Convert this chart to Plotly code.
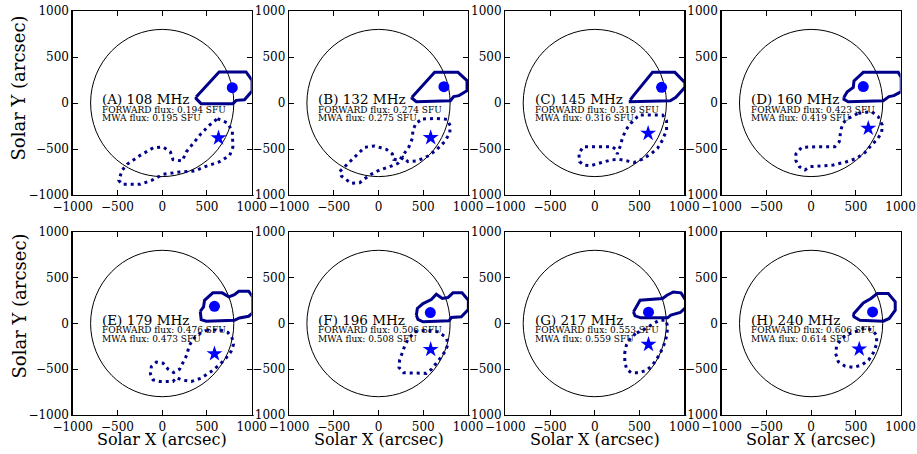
import plotly.graph_objects as go

# ---------------- data ----------------
PANEL_LETTERS = ["A", "B", "C", "D", "E", "F", "G", "H"]
FREQ_MHZ = [108, 132, 145, 160, 179, 196, 217, 240]
FORWARD_FLUX = [0.194, 0.274, 0.318, 0.423, 0.476, 0.506, 0.553, 0.606]
MWA_FLUX = [0.195, 0.275, 0.316, 0.419, 0.473, 0.508, 0.559, 0.614]
SUN_RADIUS = 800
TICKS = [-1000, -500, 0, 500, 1000]

# centroid markers (arcsec)
CIRCLE_X = [783, 731, 746, 583, 584, 579, 600, 687]
CIRCLE_Y = [167, 177, 170, 178, 188, 120, 124, 127]
STAR_X = [629, 583, 596, 639, 584, 583, 600, 538]
STAR_Y = [-380, -377, -330, -275, -331, -284, -229, -280]

# solid contours (arcsec)
SOLID_X = [
    [379, 636, 937, 1004, 1004, 919, 827, 790, 434, 379],
    [374, 627, 888, 989, 989, 899, 840, 803, 423, 374],
    [396, 432, 645, 895, 1007, 1007, 906, 843, 396],
    [367, 404, 471, 479, 583, 974, 1007, 1007, 925, 870, 806, 415, 367],
    [425, 462, 473, 566, 670, 744, 807, 855, 966, 1011, 1011, 966, 863, 807, 492, 436],
    [423, 434, 497, 590, 646, 713, 776, 832, 933, 1004, 1004, 925, 814, 788, 497, 441],
    [432, 458, 506, 757, 806, 877, 963, 1015, 1015, 955, 850, 813, 514, 450],
    [471, 583, 669, 739, 862, 940, 940, 873, 806, 546, 479],
]
SOLID_Y = [
    [65, 337, 337, 246, 130, 36, 29, -7, -7, 47],
    [62, 333, 333, 243, 134, 80, 69, 25, 14, 51],
    [33, 80, 333, 333, 221, 170, 62, 25, 14],
    [62, 123, 170, 239, 333, 333, 279, 123, 80, 69, 25, 14, 40],
    [133, 181, 254, 335, 335, 291, 316, 353, 353, 291, 115, 79, 60, 35, 24, 42],
    [91, 164, 218, 262, 320, 273, 284, 335, 335, 255, 153, 73, 65, 29, 18, 44],
    [127, 175, 255, 273, 309, 345, 335, 255, 175, 120, 91, 62, 62, 84],
    [102, 225, 273, 327, 327, 236, 145, 55, 25, 36, 73],
]

# dotted contours (arcsec)
DOTTED_X = [
    [618, 728, 783, 790, 754, 636, 489, 360, 195, 11, -118, -246, -448, -485, -448,
     -393, -246, -99, 11, 92, 121, 224, 268, 360, 434, 526],
    [497, 646, 765, 803, 795, 739, 646, 553, 441, 330, 274, 218, 125, 13, -99, -210,
     -304, -415, -434, -359, -266, -155, -43, 88, 155, 170, 236, 292, 341, 378, 385, 423],
    [514, 757, 802, 802, 757, 701, 626, 533, 439, 346, 271, 178, 65, -47, -121, -170,
     -178, -129, 28, 196, 234, 252, 282, 308, 346, 402, 477],
    [527, 676, 750, 795, 788, 739, 676, 601, 508, 397, 248, 80, -13, -69, -132, -170,
     -170, -106, 61, 266, 315, 330, 352, 415, 471],
    [492, 640, 733, 781, 796, 770, 714, 640, 547, 436, 325, 213, 158, 121, -28, -102,
     -132, -121, -65, 9, 65, 128, 195, 232, 276, 299, 343, 417],
    [404, 534, 665, 758, 776, 750, 702, 646, 590, 534, 404, 281, 229, 236, 266, 292, 330],
    [469, 551, 645, 720, 794, 813, 806, 776, 738, 690, 637, 581, 495, 409, 357, 335,
     335, 353, 402],
    [490, 583, 676, 732, 732, 695, 642, 564, 471, 378, 304, 274, 285, 341, 415],
]
DOTTED_Y = [
    [-170, -217, -304, -478, -569, -641, -688, -739, -750, -775, -841, -884, -884, -841,
     -732, -667, -569, -486, -478, -533, -616, -630, -533, -424, -333, -243],
    [-174, -167, -178, -250, -330, -420, -511, -576, -627, -638, -591, -656, -692, -728,
     -783, -866, -873, -793, -746, -674, -583, -482, -467, -504, -554, -612, -620, -547,
     -475, -384, -293, -214],
    [-130, -130, -192, -293, -402, -493, -554, -609, -645, -630, -612, -620, -649, -681,
     -674, -638, -547, -475, -475, -475, -504, -554, -475, -384, -293, -221, -149],
    [-112, -94, -149, -239, -322, -395, -456, -540, -602, -638, -674, -681, -692, -728,
     -692, -627, -554, -482, -475, -475, -420, -312, -221, -167, -141],
    [-75, -68, -97, -159, -232, -305, -378, -451, -524, -597, -634, -616, -590, -634,
     -634, -616, -550, -470, -422, -433, -499, -536, -499, -433, -342, -250, -170, -111],
    [-91, -73, -91, -153, -225, -298, -364, -436, -502, -545, -545, -538, -480, -400,
     -320, -247, -175],
    [-102, -65, -7, 36, 36, -29, -127, -225, -309, -393, -462, -509, -538, -538, -502,
     -418, -320, -236, -153],
    [-91, -55, -65, -127, -225, -320, -400, -455, -480, -465, -418, -327, -247, -164, -116],
]

# ---------------- layout geometry (target pixel positions) ----------------
W, H = 917, 454
COL_LEFT = [72.7, 289.0, 505.3, 721.6]
PANEL_W = 179
ROW_TOP = [11, 232]
PANEL_H = [184, 183]


def px(x):
    return x / W


def py(y):
    return 1 - y / H


FONT = "DejaVu Serif"
SOLID_COLOR = "#00008B"
MARK_COLOR = "#0000FF"

fig = go.Figure()
layout = dict(
    width=W, height=H, margin=dict(l=0, r=0, t=0, b=0, autoexpand=False),
    paper_bgcolor="white", plot_bgcolor="white", showlegend=False,
    font=dict(family=FONT, size=12, color="black"),
)
annotations = []
shapes = []

for i in range(8):
    r, c = divmod(i, 4)
    ax = "" if i == 0 else str(i + 1)
    xref, yref = "x" + ax, "y" + ax
    common = dict(
        range=[-1000, 1000], tickvals=TICKS, ticks="inside", ticklen=5, tickwidth=1,
        tickcolor="black", showline=True, linecolor="black", linewidth=1.3,
        mirror="allticks", showgrid=False, zeroline=False, automargin=False,
        ticklabeloverflow="allow",
        tickfont=dict(family=FONT, size=12, color="black"),
    )
    layout["xaxis" + ax] = dict(domain=[px(COL_LEFT[c]), px(COL_LEFT[c] + PANEL_W)],
                                anchor=yref, **common)
    layout["yaxis" + ax] = dict(domain=[py(ROW_TOP[r] + PANEL_H[r]), py(ROW_TOP[r])],
                                anchor=xref, **common)

    shapes.append(dict(type="circle", xref=xref, yref=yref,
                       x0=-SUN_RADIUS, x1=SUN_RADIUS, y0=-SUN_RADIUS, y1=SUN_RADIUS,
                       line=dict(color="black", width=1), layer="below"))

    sx = SOLID_X[i] + [SOLID_X[i][0]]
    sy = SOLID_Y[i] + [SOLID_Y[i][0]]
    fig.add_trace(go.Scatter(x=sx, y=sy, mode="lines", xaxis=xref, yaxis=yref,
                             line=dict(color=SOLID_COLOR, width=3), hoverinfo="skip"))
    dx = DOTTED_X[i] + [DOTTED_X[i][0]]
    dy = DOTTED_Y[i] + [DOTTED_Y[i][0]]
    fig.add_trace(go.Scatter(x=dx, y=dy, mode="lines", xaxis=xref, yaxis=yref,
                             line=dict(color=SOLID_COLOR, width=3, dash="3px,4px"),
                             hoverinfo="skip"))
    fig.add_trace(go.Scatter(x=[CIRCLE_X[i]], y=[CIRCLE_Y[i]], mode="markers",
                             xaxis=xref, yaxis=yref,
                             marker=dict(symbol="circle", size=11, color=MARK_COLOR)))
    fig.add_trace(go.Scatter(x=[STAR_X[i]], y=[STAR_Y[i]], mode="markers",
                             xaxis=xref, yaxis=yref,
                             marker=dict(symbol="star", size=12, color=MARK_COLOR)))

    annotations.append(dict(xref=xref, yref=yref, x=-695, y=40, xanchor="left",
                            yanchor="middle", showarrow=False,
                            text=f"({PANEL_LETTERS[i]}) {FREQ_MHZ[i]} MHz",
                            font=dict(family=FONT, size=13.5, color="black")))
    annotations.append(dict(xref=xref, yref=yref, x=-695, y=-72, xanchor="left",
                            yanchor="middle", showarrow=False,
                            text=f"FORWARD flux: {FORWARD_FLUX[i]:.3f} SFU",
                            font=dict(family=FONT, size=9, color="black")))
    annotations.append(dict(xref=xref, yref=yref, x=-695, y=-165, xanchor="left",
                            yanchor="middle", showarrow=False,
                            text=f"MWA flux: {MWA_FLUX[i]:.3f} SFU",
                            font=dict(family=FONT, size=9, color="black")))

# axis titles
for yc in [88, 306]:
    annotations.append(dict(xref="paper", yref="paper", x=px(18.5), y=py(yc),
                            xanchor="center", yanchor="middle", showarrow=False,
                            textangle=-90, text="Solar Y (arcsec)",
                            font=dict(family=FONT, size=18, color="black")))
for c in range(4):
    xc = COL_LEFT[c] + PANEL_W / 2
    annotations.append(dict(xref="paper", yref="paper", x=px(xc), y=py(439.5),
                            xanchor="center", yanchor="middle", showarrow=False,
                            text="Solar X (arcsec)",
                            font=dict(family=FONT, size=16, color="black")))

layout["annotations"] = annotations
layout["shapes"] = shapes
fig.update_layout(**layout)
# remove the default 8px page margin so the figure fills the window exactly
fig.write_html("out.html",
               config={"displayModeBar": False, "staticPlot": True},
               post_script="document.body.style.margin='0px';"
                           "document.body.style.overflow='hidden';")
